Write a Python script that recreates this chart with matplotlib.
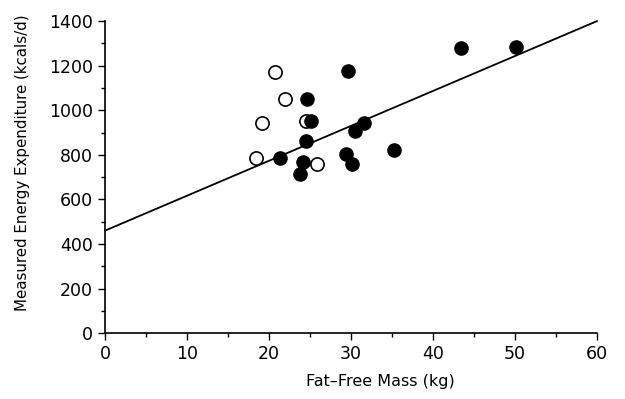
import matplotlib
matplotlib.use("Agg")
import matplotlib.pyplot as plt
from matplotlib.ticker import MultipleLocator

filled_x = [43.4, 50.1, 29.7, 24.7, 25.1, 31.6, 30.5, 24.5, 35.3, 21.4, 29.4, 30.1, 24.1, 23.8]
filled_y = [1279, 1283, 1175, 1050, 952, 943, 906, 863, 821, 788, 806, 761, 766, 716]
open_x = [20.7, 22.0, 19.1, 24.5, 18.4, 25.9]
open_y = [1172, 1050, 941, 952, 788, 761]
line_x = [0, 60]
line_y = [460, 1400]

plt.rcParams['font.family'] = ['DejaVu Sans']
fig = plt.figure(figsize=(6.25, 3.99), dpi=100)
ax = fig.add_axes([0.168, 0.165, 0.787, 0.782])

ax.plot(line_x, line_y, color='black', lw=1.3, zorder=2, clip_on=False)
ax.plot(open_x, open_y, 'o', ms=9.5, mfc='white', mec='black', mew=1.2, zorder=3, clip_on=False)
ax.plot(filled_x, filled_y, 'o', ms=9.5, mfc='black', mec='black', zorder=4, clip_on=False)

ax.set_xlim(0, 60)
ax.set_ylim(0, 1400)
ax.xaxis.set_major_locator(MultipleLocator(10))
ax.xaxis.set_minor_locator(MultipleLocator(5))
ax.yaxis.set_major_locator(MultipleLocator(200))
ax.yaxis.set_minor_locator(MultipleLocator(100))
for s in ['top', 'right']:
    ax.spines[s].set_visible(False)
for s in ['left', 'bottom']:
    ax.spines[s].set_linewidth(1.2)
ax.tick_params(which='major', direction='out', length=5, width=1, labelsize=12.5)
ax.tick_params(which='minor', direction='out', length=3, width=1)
ax.set_xlabel('Fat\u2013Free Mass (kg)', fontsize=11.5)
ax.set_ylabel('Measured Energy Expenditure (kcals/d)', fontsize=10.8)
ax.xaxis.set_label_coords(0.559, -0.13)
ax.yaxis.set_label_coords(-0.152, 0.545)

fig.savefig('out.png', dpi=100)
